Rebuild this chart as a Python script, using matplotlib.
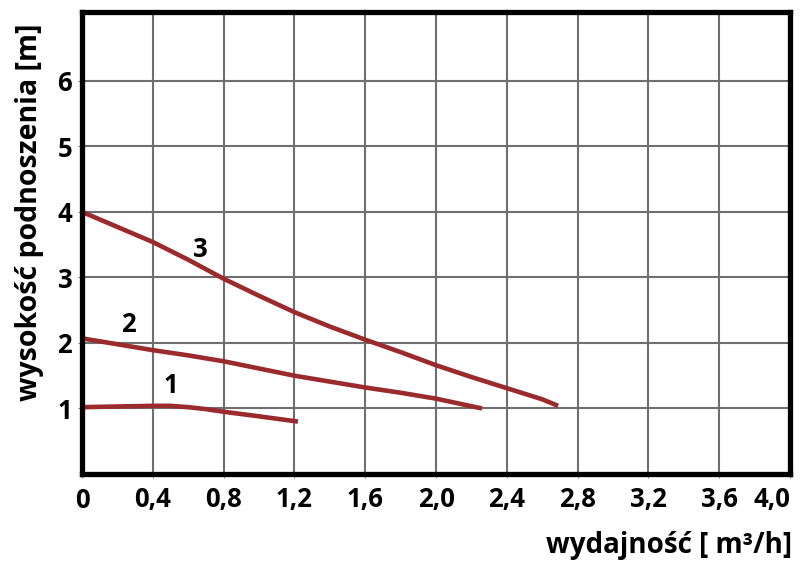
import matplotlib.pyplot as plt

# pump curves: flow [m3/h] vs head [m]
q1 = [0.0, 0.2, 0.4, 0.5, 0.6, 0.7, 0.8, 1.0, 1.22]
h1 = [1.02, 1.03, 1.04, 1.04, 1.02, 0.99, 0.95, 0.88, 0.80]

q2 = [0.0, 0.2, 0.4, 0.6, 0.8, 1.0, 1.2, 1.4, 1.6, 1.8, 2.0, 2.26]
h2 = [2.07, 1.98, 1.89, 1.81, 1.72, 1.61, 1.50, 1.41, 1.32, 1.24, 1.15, 1.00]

q3 = [0.0, 0.2, 0.4, 0.6, 0.8, 1.0, 1.2, 1.4, 1.6, 1.8, 2.0, 2.2, 2.4, 2.6, 2.69]
h3 = [4.0, 3.77, 3.54, 3.27, 2.98, 2.72, 2.47, 2.25, 2.05, 1.86, 1.66, 1.48, 1.31, 1.14, 1.04]

curve_names = ["1", "2", "3"]
label_pos = [(0.5, 1.35), (0.26, 2.28), (0.67, 3.43)]

xticks = [0, 0.4, 0.8, 1.2, 1.6, 2.0, 2.4, 2.8, 3.2, 3.6, 4.0]
xticklabels = ["0", "0,4", "0,8", "1,2", "1,6", "2,0", "2,4", "2,8", "3,2", "3,6", "4,0"]
yticks = [1, 2, 3, 4, 5, 6]

plt.rcParams['font.family'] = ['Open Sans', 'DejaVu Sans']

fig = plt.figure(figsize=(8.11, 5.62), dpi=100)
ax = fig.add_axes([82/811, 1 - 474/562, (790 - 82)/811, (474 - 12)/562])

red = '#9b2a2c'
for q, h in [(q1, h1), (q2, h2), (q3, h3)]:
    ax.plot(q, h, color=red, lw=3.3, solid_capstyle='butt', solid_joinstyle='round', zorder=3)

for name, (x, y) in zip(curve_names, label_pos):
    ax.text(x, y, name, fontsize=18.5, fontweight='bold', ha='center', va='center', zorder=4)

ax.set_xlim(0, 4.0)
ax.set_ylim(0, 7.05)
ax.set_xticks(xticks)
ax.set_xticklabels(xticklabels)
ax.set_yticks(yticks)
ax.grid(True, color='#6f6f6f', lw=1.5, zorder=1)
ax.set_axisbelow(True)

for lbl in ax.get_xticklabels() + ax.get_yticklabels():
    lbl.set_fontweight('bold')
    lbl.set_fontsize(18.5)
ax.get_xticklabels()[-1].set_horizontalalignment('right')
ax.tick_params(axis='x', length=3, color='#888888', pad=6)
ax.tick_params(axis='y', length=3, color='#888888', pad=4)

for s in ax.spines.values():
    s.set_linewidth(3.8)
    s.set_color('black')
    s.set_zorder(5)

fig.text(30/811, 1 - 212/562, "wysokość podnoszenia [m]", rotation=90,
         ha='center', va='center', fontsize=20.5, fontweight='bold')
fig.text(792/811, 1 - 545/562, "wydajność [ m³/h]",
         ha='right', va='center', fontsize=20, fontweight='bold')

fig.savefig("out.png", dpi=100)
